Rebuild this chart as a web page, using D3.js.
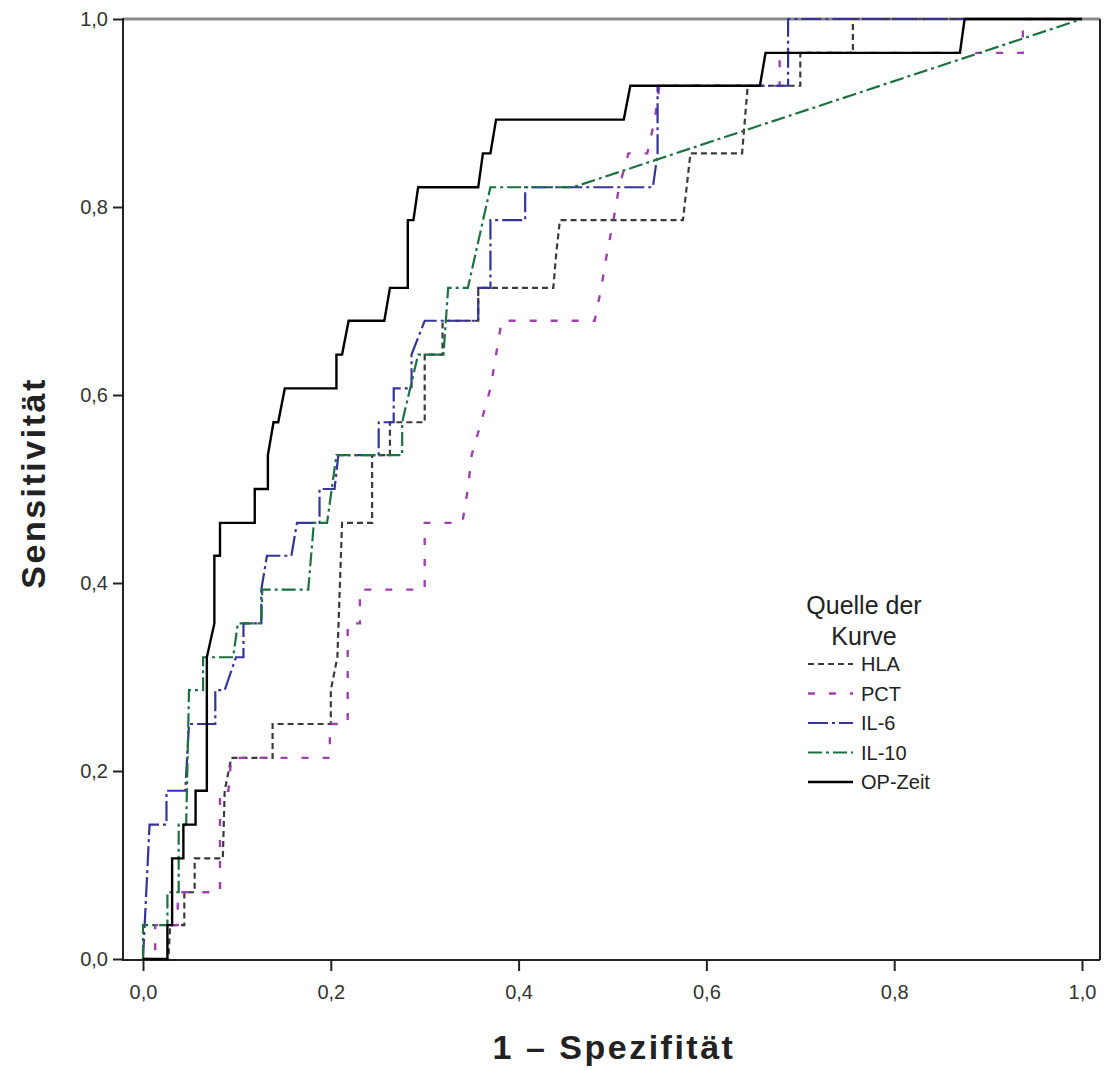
<!DOCTYPE html>
<html>
<head>
<meta charset="utf-8">
<script src="https://cdn.jsdelivr.net/npm/d3@7"></script>
<style>
  html, body { margin: 0; padding: 0; background: #fff; }
  svg { display: block; }
</style>
</head>
<body>
<div id="chart"></div>
<script>
// ---- data (1 - specificity, sensitivity) ----
const seriesNames = ["HLA", "PCT", "IL-6", "IL-10", "OP-Zeit"];

const hla = [[0,0],[0.027,0],[0.029,0.036],[0.044,0.036],[0.044,0.071],[0.055,0.071],[0.055,0.107],[0.085,0.107],[0.087,0.179],[0.094,0.214],[0.138,0.214],[0.138,0.25],[0.200,0.25],[0.200,0.286],[0.207,0.321],[0.212,0.464],[0.244,0.464],[0.244,0.536],[0.263,0.536],[0.263,0.571],[0.300,0.571],[0.300,0.643],[0.319,0.643],[0.319,0.679],[0.357,0.679],[0.357,0.714],[0.437,0.714],[0.440,0.75],[0.444,0.786],[0.575,0.786],[0.583,0.857],[0.638,0.857],[0.644,0.929],[0.700,0.929],[0.700,0.964],[0.756,0.964],[0.756,1],[1,1]];

const pct = [[0,0],[0.013,0],[0.013,0.036],[0.037,0.036],[0.037,0.071],[0.082,0.071],[0.082,0.179],[0.091,0.179],[0.094,0.214],[0.199,0.214],[0.199,0.25],[0.218,0.25],[0.218,0.357],[0.231,0.357],[0.231,0.393],[0.300,0.393],[0.300,0.464],[0.340,0.464],[0.346,0.5],[0.350,0.536],[0.360,0.571],[0.370,0.607],[0.376,0.643],[0.382,0.679],[0.481,0.679],[0.488,0.714],[0.494,0.75],[0.501,0.786],[0.507,0.821],[0.517,0.857],[0.537,0.857],[0.545,0.893],[0.550,0.929],[0.678,0.929],[0.678,0.964],[0.937,0.964],[0.937,1],[1,1]];

const il6 = [[0,0],[0.007,0.143],[0.025,0.143],[0.025,0.179],[0.045,0.179],[0.049,0.25],[0.077,0.25],[0.077,0.286],[0.087,0.286],[0.099,0.321],[0.107,0.321],[0.107,0.357],[0.126,0.357],[0.126,0.393],[0.132,0.429],[0.158,0.429],[0.164,0.464],[0.188,0.464],[0.188,0.5],[0.204,0.5],[0.208,0.536],[0.251,0.536],[0.251,0.571],[0.267,0.571],[0.267,0.607],[0.286,0.607],[0.286,0.643],[0.300,0.679],[0.357,0.679],[0.357,0.714],[0.370,0.714],[0.370,0.786],[0.407,0.786],[0.407,0.821],[0.543,0.821],[0.548,0.857],[0.548,0.929],[0.687,0.929],[0.687,1],[1,1]];

const il10 = [[0,0],[0,0.036],[0.026,0.036],[0.026,0.071],[0.038,0.071],[0.038,0.143],[0.046,0.143],[0.049,0.286],[0.064,0.286],[0.064,0.321],[0.096,0.321],[0.101,0.357],[0.126,0.357],[0.127,0.393],[0.176,0.393],[0.182,0.464],[0.196,0.464],[0.206,0.536],[0.276,0.536],[0.276,0.571],[0.293,0.643],[0.320,0.643],[0.325,0.714],[0.346,0.714],[0.370,0.821],[0.458,0.821],[1,1]];

const opZeit = [[0,0],[0.026,0],[0.026,0.036],[0.031,0.036],[0.031,0.107],[0.043,0.107],[0.043,0.143],[0.056,0.143],[0.056,0.179],[0.068,0.179],[0.068,0.321],[0.076,0.357],[0.076,0.429],[0.082,0.429],[0.082,0.464],[0.119,0.464],[0.119,0.5],[0.133,0.5],[0.133,0.536],[0.139,0.571],[0.144,0.571],[0.151,0.607],[0.206,0.607],[0.206,0.643],[0.212,0.643],[0.219,0.679],[0.257,0.679],[0.263,0.714],[0.282,0.714],[0.282,0.786],[0.288,0.786],[0.293,0.821],[0.357,0.821],[0.362,0.857],[0.370,0.857],[0.376,0.893],[0.512,0.893],[0.519,0.929],[0.657,0.929],[0.663,0.964],[0.870,0.964],[0.875,1],[1,1]];

const xTicks = [0, 0.2, 0.4, 0.6, 0.8, 1.0];
const yTicks = [0, 0.2, 0.4, 0.6, 0.8, 1.0];
const tickLabels = ["0,0", "0,2", "0,4", "0,6", "0,8", "1,0"];

const seriesData = [hla, pct, il6, il10, opZeit];
const seriesColors = ["#3a3a3a", "#a040b0", "#34349a", "#1d7040", "#000000"];
const seriesDash = ["6,4", "7,14", "20,4,3,4", "14,4,3,4", null];
const seriesWidth = [2.2, 2.4, 2.2, 2.2, 2.4];

// ---- layout ----
const W = 1109, H = 1070;
const frame = {left: 123, right: 1100, top: 19, bottom: 960};

const svg = d3.select("#chart").append("svg")
  .attr("width", W).attr("height", H);

const x = d3.scaleLinear().domain([0, 1]).range([143, 1082]);
const y = d3.scaleLinear().domain([0, 1]).range([959, 19]);

const tickFont = "'Liberation Sans Narrow', 'Liberation Sans', Arial, sans-serif";

// frame
svg.append("line").attr("x1", frame.left).attr("x2", frame.right)
  .attr("y1", frame.top).attr("y2", frame.top)
  .attr("stroke", "#8a8a8a").attr("stroke-width", 3);
svg.append("line").attr("x1", frame.right).attr("x2", frame.right)
  .attr("y1", frame.top).attr("y2", frame.bottom)
  .attr("stroke", "#222").attr("stroke-width", 2);

// axes
const xAxis = d3.axisBottom(x).tickValues(xTicks)
  .tickFormat((d, i) => tickLabels[i]).tickSize(11).tickPadding(14);
const yAxis = d3.axisLeft(y).tickValues(yTicks)
  .tickFormat((d, i) => tickLabels[i]).tickSize(10).tickPadding(5);

const gx = svg.append("g").attr("transform", `translate(0,${frame.bottom})`).call(xAxis);
const gy = svg.append("g").attr("transform", `translate(${frame.left},0)`).call(yAxis);

[gx, gy].forEach(g => {
  g.select(".domain").remove();
  g.selectAll(".tick line").attr("stroke", "#222").attr("stroke-width", 2);
  g.selectAll(".tick text").attr("fill", "#333")
    .style("font-family", tickFont).style("font-size", "20px");
});
svg.append("line").attr("x1", frame.left).attr("x2", frame.right)
  .attr("y1", frame.bottom).attr("y2", frame.bottom)
  .attr("stroke", "#222").attr("stroke-width", 2);
svg.append("line").attr("x1", frame.left).attr("x2", frame.left)
  .attr("y1", frame.top - 1).attr("y2", frame.bottom + 1)
  .attr("stroke", "#222").attr("stroke-width", 2);

// curves
const line = d3.line().x(d => x(d[0])).y(d => y(d[1]));
const curves = svg.append("g");
seriesData.forEach((data, i) => {
  curves.append("path")
    .datum(data)
    .attr("d", line)
    .attr("fill", "none")
    .attr("stroke", seriesColors[i])
    .attr("stroke-width", seriesWidth[i])
    .attr("stroke-dasharray", seriesDash[i])
    .attr("stroke-linejoin", "miter");
});

// axis titles
svg.append("text")
  .attr("x", 614).attr("y", 1059)
  .attr("text-anchor", "middle")
  .style("font-family", tickFont).style("font-size", "34px").style("font-weight", "bold")
  .style("letter-spacing", "2.5px")
  .attr("fill", "#222")
  .text("1 – Spezifität");

svg.append("text")
  .attr("transform", "translate(45,483) rotate(-90)")
  .attr("text-anchor", "middle")
  .style("font-family", tickFont).style("font-size", "34px").style("font-weight", "bold")
  .style("letter-spacing", "2.5px")
  .attr("fill", "#222")
  .text("Sensitivität");

// legend
const legFont = "'Liberation Sans', Arial, sans-serif";
const leg = svg.append("g");
leg.append("text").attr("x", 864).attr("y", 614).attr("text-anchor", "middle")
  .style("font-family", legFont).style("font-size", "25px").attr("fill", "#222")
  .text("Quelle der");
leg.append("text").attr("x", 864).attr("y", 645).attr("text-anchor", "middle")
  .style("font-family", legFont).style("font-size", "25px").attr("fill", "#222")
  .text("Kurve");

seriesNames.forEach((name, i) => {
  const yy = 664 + i * 29.5;
  leg.append("line").attr("x1", 808).attr("x2", 853)
    .attr("y1", yy).attr("y2", yy)
    .attr("stroke", seriesColors[i]).attr("stroke-width", seriesWidth[i])
    .attr("stroke-dasharray", seriesDash[i]);
  leg.append("text").attr("x", 861).attr("y", yy + 7)
    .style("font-family", legFont).style("font-size", "20px").attr("fill", "#222")
    .text(name);
});
</script>
</body>
</html>
